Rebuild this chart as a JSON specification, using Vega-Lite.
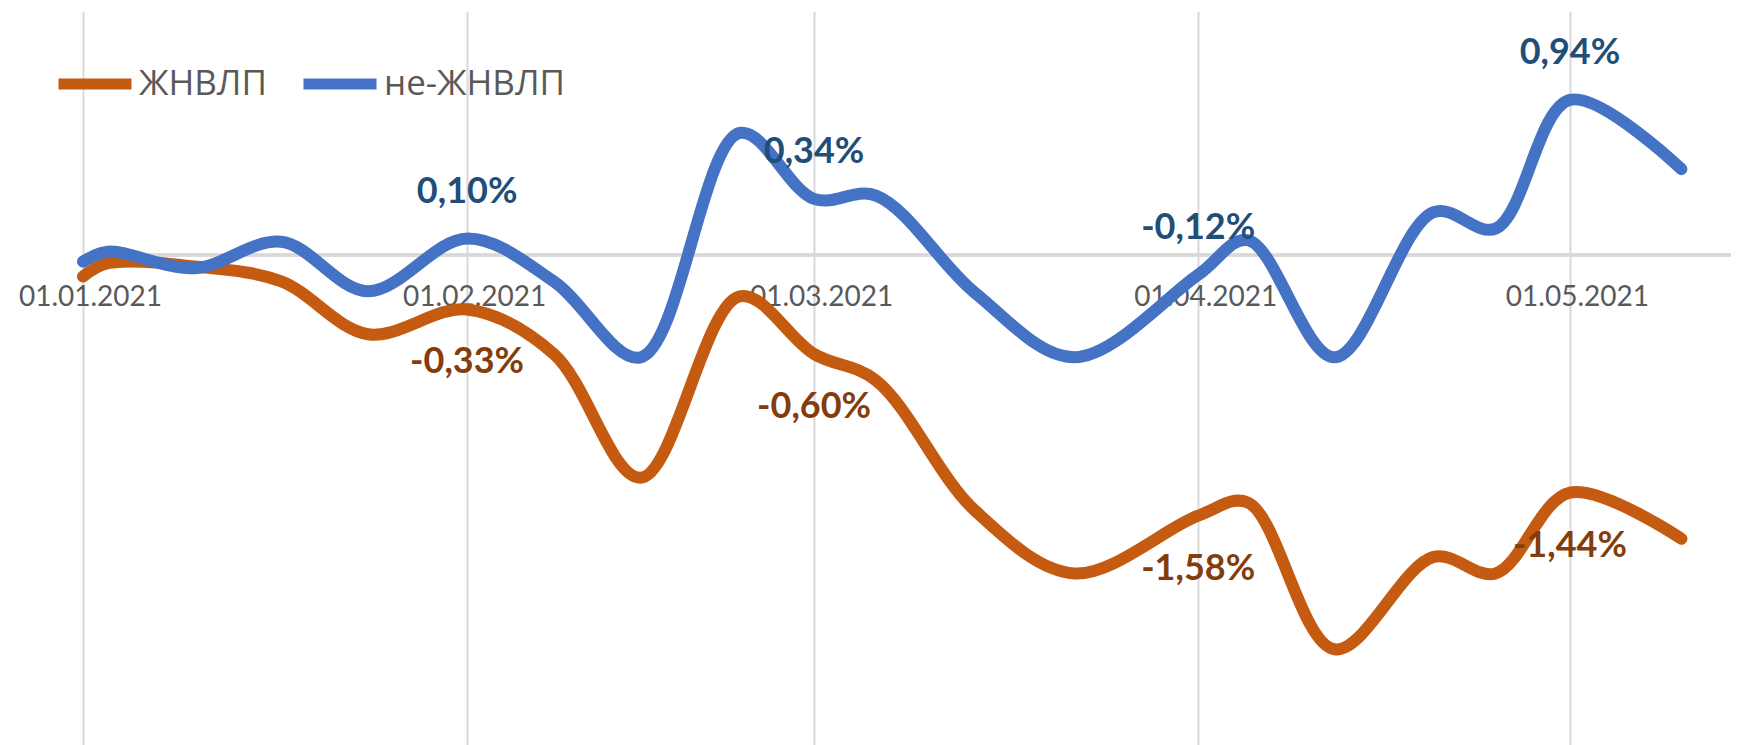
{
  "$schema": "https://vega.github.io/schema/vega-lite/v6.json",
  "width": 1648,
  "height": 734,
  "autosize": {"type": "none"},
  "padding": {"left": 83, "top": 11, "right": 31, "bottom": 0},
  "background": "white",
  "config": {"view": {"stroke": null}, "font": "Lato"},
  "data": {
    "values": [
      {"date": "2021-01-01", "series": "ЖНВЛП", "value": -0.13},
      {"date": "2021-01-03", "series": "ЖНВЛП", "value": -0.05},
      {"date": "2021-01-10", "series": "ЖНВЛП", "value": -0.07},
      {"date": "2021-01-17", "series": "ЖНВЛП", "value": -0.16},
      {"date": "2021-01-24", "series": "ЖНВЛП", "value": -0.48},
      {"date": "2021-02-01", "series": "ЖНВЛП", "value": -0.33, "label": "-0,33%"},
      {"date": "2021-02-08", "series": "ЖНВЛП", "value": -0.6},
      {"date": "2021-02-15", "series": "ЖНВЛП", "value": -1.35},
      {"date": "2021-02-23", "series": "ЖНВЛП", "value": -0.25},
      {"date": "2021-03-01", "series": "ЖНВЛП", "value": -0.6, "label": "-0,60%"},
      {"date": "2021-03-06", "series": "ЖНВЛП", "value": -0.76},
      {"date": "2021-03-14", "series": "ЖНВЛП", "value": -1.55},
      {"date": "2021-03-22", "series": "ЖНВЛП", "value": -1.93},
      {"date": "2021-04-01", "series": "ЖНВЛП", "value": -1.58, "label": "-1,58%"},
      {"date": "2021-04-05", "series": "ЖНВЛП", "value": -1.5},
      {"date": "2021-04-12", "series": "ЖНВЛП", "value": -2.39},
      {"date": "2021-04-20", "series": "ЖНВЛП", "value": -1.83},
      {"date": "2021-04-25", "series": "ЖНВЛП", "value": -1.93},
      {"date": "2021-05-01", "series": "ЖНВЛП", "value": -1.44, "label": "-1,44%"},
      {"date": "2021-05-10", "series": "ЖНВЛП", "value": -1.72},
      {"date": "2021-01-01", "series": "не-ЖНВЛП", "value": -0.04},
      {"date": "2021-01-03", "series": "не-ЖНВЛП", "value": 0.02},
      {"date": "2021-01-10", "series": "не-ЖНВЛП", "value": -0.08},
      {"date": "2021-01-17", "series": "не-ЖНВЛП", "value": 0.08},
      {"date": "2021-01-24", "series": "не-ЖНВЛП", "value": -0.22},
      {"date": "2021-02-01", "series": "не-ЖНВЛП", "value": 0.1, "label": "0,10%"},
      {"date": "2021-02-08", "series": "не-ЖНВЛП", "value": -0.16},
      {"date": "2021-02-15", "series": "не-ЖНВЛП", "value": -0.62},
      {"date": "2021-02-23", "series": "не-ЖНВЛП", "value": 0.74},
      {"date": "2021-03-01", "series": "не-ЖНВЛП", "value": 0.34, "label": "0,34%"},
      {"date": "2021-03-06", "series": "не-ЖНВЛП", "value": 0.36},
      {"date": "2021-03-14", "series": "не-ЖНВЛП", "value": -0.23},
      {"date": "2021-03-22", "series": "не-ЖНВЛП", "value": -0.62},
      {"date": "2021-04-01", "series": "не-ЖНВЛП", "value": -0.12, "label": "-0,12%"},
      {"date": "2021-04-05", "series": "не-ЖНВЛП", "value": 0.09},
      {"date": "2021-04-12", "series": "не-ЖНВЛП", "value": -0.62},
      {"date": "2021-04-20", "series": "не-ЖНВЛП", "value": 0.26},
      {"date": "2021-04-25", "series": "не-ЖНВЛП", "value": 0.16},
      {"date": "2021-05-01", "series": "не-ЖНВЛП", "value": 0.94, "label": "0,94%"},
      {"date": "2021-05-10", "series": "не-ЖНВЛП", "value": 0.52}
    ]
  },
  "layer": [
    {
      "mark": {"type": "rule", "color": "#D9D9D9", "strokeWidth": 2.5},
      "encoding": {
        "y": {"datum": 0, "type": "quantitative", "scale": {"domain": [-2.97, 1.479], "nice": false, "zero": false}, "axis": null}
      }
    },
    {
      "mark": {"type": "line", "strokeWidth": 12, "strokeCap": "round", "strokeJoin": "round", "interpolate": "catmull-rom"},
      "encoding": {
        "x": {
          "field": "date", "type": "temporal",
          "scale": {"type": "utc", "domain": [1609459200000, 1620950400000], "nice": false},
          "axis": {
            "orient": "bottom", "offset": -448, "domain": false, "ticks": false,
            "labelPadding": 0, "labelBaseline": "middle", "labelFontSize": 28, "labelOffset": 7,
            "labelColor": "#595959", "labelFont": "Lato", "labelFlush": false, "labelOverlap": false,
            "grid": true, "gridColor": "#D9D9D9", "gridWidth": 2, "title": null, "format": "%d.%m.%Y",
            "values": [
              {"year": 2021, "month": 1, "date": 1, "utc": true},
              {"year": 2021, "month": 2, "date": 1, "utc": true},
              {"year": 2021, "month": 3, "date": 1, "utc": true},
              {"year": 2021, "month": 4, "date": 1, "utc": true},
              {"year": 2021, "month": 5, "date": 1, "utc": true}
            ]
          }
        },
        "y": {"field": "value", "type": "quantitative", "scale": {"domain": [-2.97, 1.479], "nice": false, "zero": false}, "axis": null},
        "color": {
          "field": "series", "type": "nominal",
          "scale": {"domain": ["ЖНВЛП", "не-ЖНВЛП"], "range": ["#C55A11", "#4472C4"]},
          "legend": {
            "title": null, "orient": "none", "direction": "horizontal", "legendX": -30, "legendY": 31,
            "symbolType": "stroke", "symbolStrokeWidth": 11, "symbolSize": 5329,
            "labelFontSize": 35, "labelFont": "Open Sans", "labelColor": "#595959", "labelLimit": 500,
            "labelOffset": 2, "columnPadding": 14
          }
        }
      }
    },
    {
      "transform": [{"filter": "isValid(datum.label) && datum.series === 'не-ЖНВЛП'"}],
      "mark": {"type": "text", "fontSize": 36, "fontWeight": "bold", "font": "Lato", "color": "#1F4E79", "dy": -47, "align": "center", "baseline": "middle"},
      "encoding": {
        "x": {"field": "date", "type": "temporal", "scale": {"type": "utc", "domain": [1609459200000, 1620950400000], "nice": false}},
        "y": {"field": "value", "type": "quantitative", "scale": {"domain": [-2.97, 1.479], "nice": false, "zero": false}},
        "text": {"field": "label"}
      }
    },
    {
      "transform": [{"filter": "isValid(datum.label) && datum.series === 'ЖНВЛП'"}],
      "mark": {"type": "text", "fontSize": 36, "fontWeight": "bold", "font": "Lato", "color": "#843C0C", "dy": 53, "align": "center", "baseline": "middle"},
      "encoding": {
        "x": {"field": "date", "type": "temporal", "scale": {"type": "utc", "domain": [1609459200000, 1620950400000], "nice": false}},
        "y": {"field": "value", "type": "quantitative", "scale": {"domain": [-2.97, 1.479], "nice": false, "zero": false}},
        "text": {"field": "label"}
      }
    }
  ]
}
